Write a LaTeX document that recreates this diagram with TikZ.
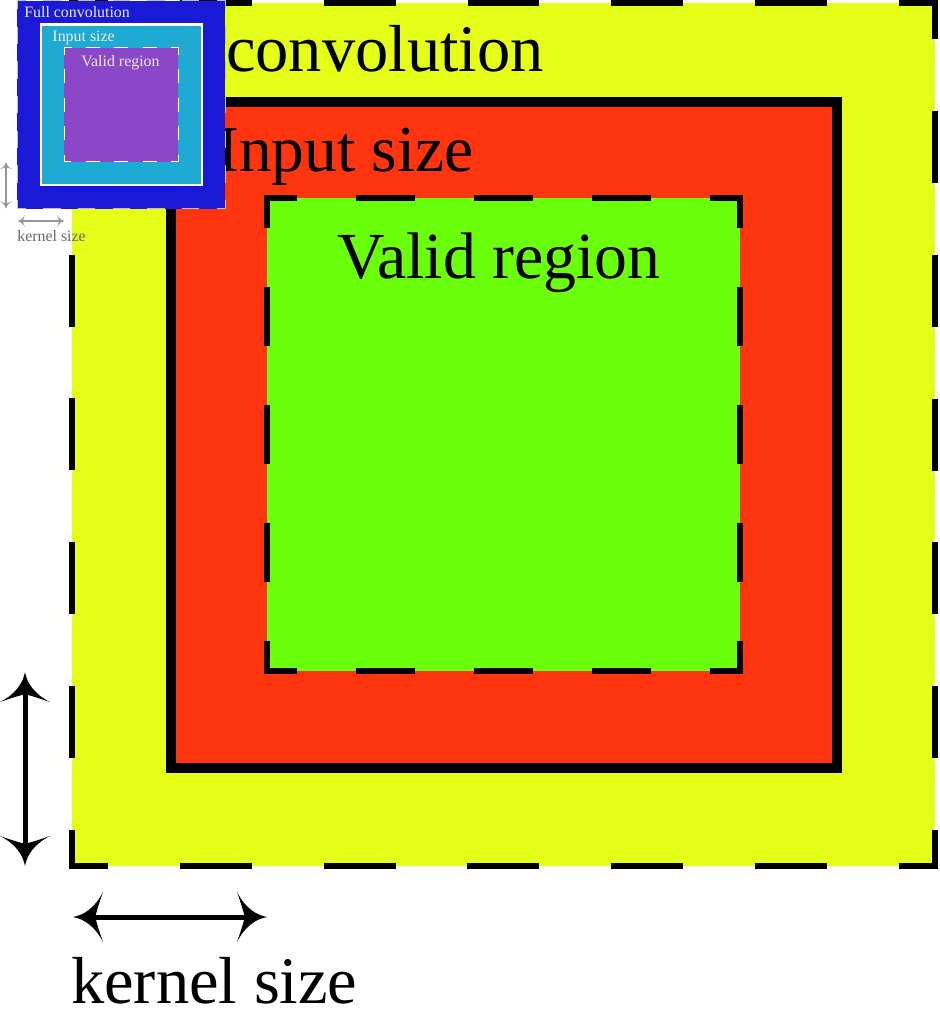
\documentclass[tikz,border=0pt]{standalone}
\usepackage{fontspec}
\setmainfont{Liberation Serif}
\usetikzlibrary{arrows.meta}

\pgfdeclarearrow{
  name = Flare,
  defaults = {length = 30pt, width = 50pt},
  parameters = {\the\pgfarrowlength,\the\pgfarrowwidth},
  setup code = {
    \pgfarrowssettipend{0pt}
    \pgfarrowssetlineend{-0.7\pgfarrowlength}
    \pgfarrowssetvisualbackend{-\pgfarrowlength}
    \pgfarrowssetbackend{-\pgfarrowlength}
    \pgfarrowshullpoint{0pt}{0pt}
    \pgfarrowshullpoint{-\pgfarrowlength}{.5\pgfarrowwidth}
    \pgfarrowshullpoint{-\pgfarrowlength}{-.5\pgfarrowwidth}
    \pgfarrowssavethe\pgfarrowlength
    \pgfarrowssavethe\pgfarrowwidth
  },
  drawing code = {
    \pgfpathmoveto{\pgfqpoint{0pt}{0pt}}
    \pgfpathcurveto{\pgfqpoint{-.35\pgfarrowlength}{.04\pgfarrowwidth}}{\pgfqpoint{-.72\pgfarrowlength}{.17\pgfarrowwidth}}{\pgfqpoint{-\pgfarrowlength}{.5\pgfarrowwidth}}
    \pgfpathcurveto{\pgfqpoint{-.88\pgfarrowlength}{.3\pgfarrowwidth}}{\pgfqpoint{-.78\pgfarrowlength}{.1\pgfarrowwidth}}{\pgfqpoint{-.74\pgfarrowlength}{0pt}}
    \pgfpathcurveto{\pgfqpoint{-.78\pgfarrowlength}{-.1\pgfarrowwidth}}{\pgfqpoint{-.88\pgfarrowlength}{-.3\pgfarrowwidth}}{\pgfqpoint{-\pgfarrowlength}{-.5\pgfarrowwidth}}
    \pgfpathcurveto{\pgfqpoint{-.72\pgfarrowlength}{-.17\pgfarrowwidth}}{\pgfqpoint{-.35\pgfarrowlength}{-.04\pgfarrowwidth}}{\pgfqpoint{0pt}{0pt}}
    \pgfpathclose
    \pgfusepathqfill
  }
}

\definecolor{fullY}{RGB}{229,255,25}
\definecolor{inRed}{RGB}{255,53,16}
\definecolor{validG}{RGB}{106,255,10}
\definecolor{fullB}{RGB}{26,26,214}
\definecolor{inCyan}{RGB}{30,170,210}
\definecolor{validP}{RGB}{140,70,200}
\definecolor{insetGray}{RGB}{150,150,150}
\definecolor{insetText}{RGB}{235,235,240}

\begin{document}
\begin{tikzpicture}[x=1pt,y=-1pt,
  bigtext/.style={font=\fontsize{66.5}{70}\selectfont, inner sep=0pt, anchor=base west},
  smalltext/.style={font=\fontsize{15.9}{17}\selectfont, inner sep=0pt, anchor=base west, text=insetText},
  outerdash/.style={line width=5.5pt, dash pattern=on 71.92pt off 71.92pt, dash phase=35.96pt},
  innerdash/.style={line width=5.5pt, dash pattern=on 59.125pt off 59.125pt, dash phase=29.56pt},
  solidframe/.style={line width=10pt, line join=miter},
  dimarrow/.style={line width=5pt, arrows={Flare-Flare}},
  insetouter/.style={draw=insetGray!60!white, line width=1.3pt, dash pattern=on 17.33pt off 17.33pt, dash phase=8.67pt},
  insetinner/.style={draw=white, line width=1.3pt, dash pattern=on 14.25pt off 14.25pt, dash phase=7.12pt},
  insetframe/.style={draw=white, line width=2.4pt, line join=miter},
  insetarrow/.style={draw=insetGray, line width=1.2pt, arrows={Flare[scale=0.241]-Flare[scale=0.241]}}
]
\useasboundingbox (0,0) rectangle (939,1024);

% ---------- main diagram ----------
\coordinate (oTL) at (72,3);   \coordinate (oBR) at (935,866);
\coordinate (rTL) at (171,102); \coordinate (rBR) at (837,768);
\coordinate (gTL) at (267,198); \coordinate (gBR) at (740,671);

\fill[fullY] (oTL) rectangle (oBR);
\draw[outerdash] (503.5,3) -- (935,3) -- (935,866) -- (72,866) -- (72,3) -- cycle;

\filldraw[fill=inRed, draw=black, solidframe] (rTL) rectangle (rBR);

\fill[validG] (gTL) rectangle (gBR);
\draw[innerdash] (503.5,198) -- (740,198) -- (740,671) -- (267,671) -- (267,198) -- cycle;

\node[bigtext] (full) at (226,72) {convolution};
\node[bigtext, font=\fontsize{65.5}{70}\selectfont] (input) at (217,172) {Input size};
\node[bigtext, font=\fontsize{65.8}{70}\selectfont] (valid) at (337,278) {Valid region};
\node[bigtext] (kernel) at (71,1003) {kernel size};

\coordinate (vTop) at (25,672); \coordinate (vBot) at (25,866);
\coordinate (hL) at (73,917);   \coordinate (hR) at (267,917);
\draw[dimarrow] (vTop) -- (vBot);
\draw[dimarrow] (hL) -- (hR);

% ---------- thumbnail inset ----------
\begin{scope}[scale=0.241]
  \fill[fullB] (72,3) rectangle (935,866);
  \draw[insetouter] (503.5,3) -- (935,3) -- (935,866) -- (72,866) -- (72,3) -- cycle;
  \filldraw[fill=inCyan, insetframe] (171,102) rectangle (837,768);
  \fill[validP] (267,198) rectangle (740,671);
  \draw[insetinner] (503.5,198) -- (740,198) -- (740,671) -- (267,671) -- (267,198) -- cycle;
  \node[smalltext] (iFull) at (100,72) {Full convolution};
  \node[smalltext] (iInput) at (217,172) {Input size};
  \node[smalltext] (iValid) at (337,278) {Valid region};
  \node[smalltext, text=insetGray!70!black] (iKernel) at (71,1003) {kernel size};
  \coordinate (ivTop) at (25,672); \coordinate (ivBot) at (25,866);
  \coordinate (ihL) at (73,917);   \coordinate (ihR) at (267,917);
  \draw[insetarrow] (ivTop) -- (ivBot);
  \draw[insetarrow] (ihL) -- (ihR);
\end{scope}
\end{tikzpicture}
\end{document}
